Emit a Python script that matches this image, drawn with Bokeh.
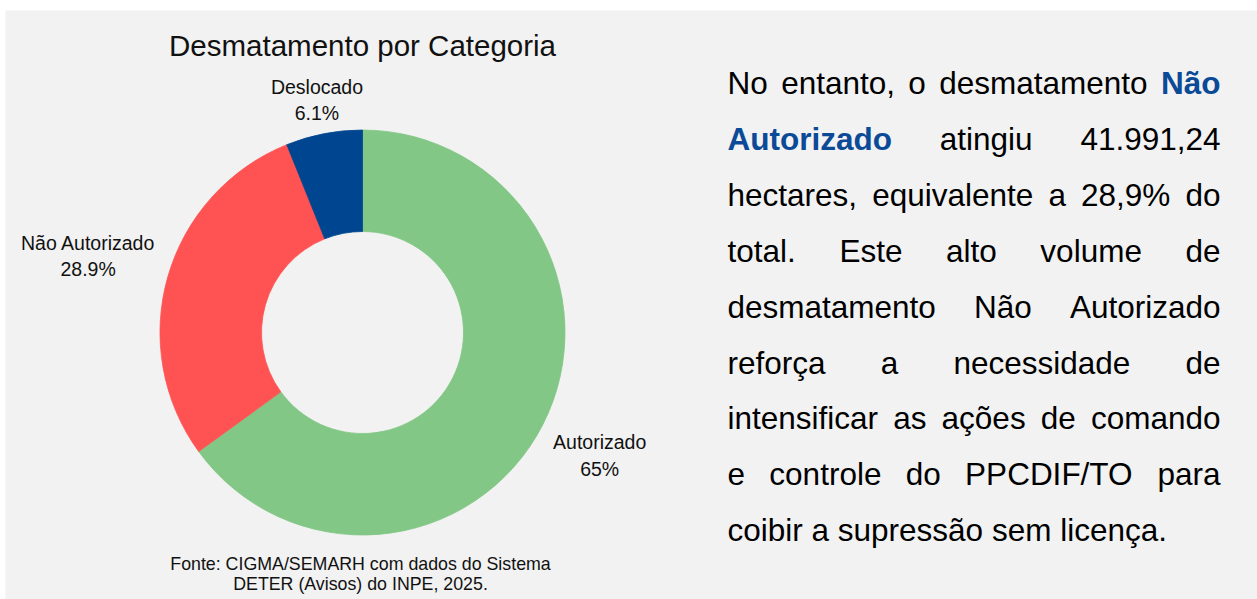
import math
from bokeh.plotting import figure
from bokeh.models import Range1d, ColumnDataSource
from bokeh.core.properties import value
from bokeh.embed import file_html
from bokeh.resources import INLINE

# ---------------- data ----------------
categories = ["Autorizado", "Não Autorizado", "Deslocado"]
percentages = [65.0, 28.9, 6.1]
pct_labels = ["65%", "28.9%", "6.1%"]
colors = ["#82C785", "#FF5353", "#00458F"]

title_text = "Desmatamento por Categoria"
source_lines = ["Fonte: CIGMA/SEMARH com dados do Sistema",
                "DETER (Avisos) do INPE, 2025."]

# paragraph (justified); 1 = bold blue
paragraph_lines = [
    [("No", 0), ("entanto,", 0), ("o", 0), ("desmatamento", 0), ("Não", 1)],
    [("Autorizado", 1), ("atingiu", 0), ("41.991,24", 0)],
    [("hectares,", 0), ("equivalente", 0), ("a", 0), ("28,9%", 0), ("do", 0)],
    [("total.", 0), ("Este", 0), ("alto", 0), ("volume", 0), ("de", 0)],
    [("desmatamento", 0), ("Não", 0), ("Autorizado", 0)],
    [("reforça", 0), ("a", 0), ("necessidade", 0), ("de", 0)],
    [("intensificar", 0), ("as", 0), ("ações", 0), ("de", 0), ("comando", 0)],
    [("e", 0), ("controle", 0), ("do", 0), ("PPCDIF/TO", 0), ("para", 0)],
]
paragraph_last = "coibir a supressão sem licença."

# ---------------- font metrics (Arial / Liberation Sans, per 1000 em) ----------------
REG = dict(zip("abcdefghijklmnopqrstuvwxyz",
               [556, 556, 500, 556, 556, 278, 556, 556, 222, 222, 500, 222, 833,
                556, 556, 556, 556, 333, 500, 278, 556, 500, 722, 500, 500, 500]))
REG.update(dict(zip("ABCDEFGHIJKLMNOPQRSTUVWXYZ",
                    [667, 667, 722, 722, 667, 611, 778, 722, 278, 500, 667, 556, 833,
                     722, 778, 667, 778, 722, 667, 611, 722, 667, 944, 667, 667, 611])))
REG.update({c: 556 for c in "0123456789"})
REG.update({" ": 278, ",": 278, ".": 278, "%": 889, "/": 278, "(": 333, ")": 333,
            ":": 278, "ã": 556, "õ": 556, "ç": 500, "á": 556, "é": 556})
BOLD = dict(zip("abcdefghijklmnopqrstuvwxyz",
                [556, 611, 556, 611, 556, 333, 611, 611, 278, 278, 556, 278, 889,
                 611, 611, 611, 611, 389, 556, 333, 611, 556, 778, 556, 556, 500]))
BOLD.update({"A": 722, "N": 722, "ã": 556, " ": 278})


def text_width(s, size, bold=False):
    table = BOLD if bold else REG
    return sum(table.get(ch, 556) for ch in s) * size / 1000.0


# ---------------- page geometry ----------------
W, H = 1257, 599


def X(px):
    return px


def Y(py):
    return H - py


FONT = value("Liberation Sans")

p = figure(width=W, height=H, output_backend="svg", toolbar_location=None,
           x_range=Range1d(0, W), y_range=Range1d(0, H), min_border=0)
p.axis.visible = False
p.grid.visible = False
p.outline_line_color = None
p.background_fill_color = "#FFFFFF"
p.border_fill_color = "#FFFFFF"

# gray panel behind the chart and the text
p.quad(left=[X(5)], right=[X(1257)], top=[Y(10)], bottom=[Y(599)],
       fill_color="#F2F2F2", line_color=None)

# ---------------- donut ----------------
CX, CY = 362, 332
R_OUT, R_IN = 202.5, 101
total = sum(percentages)
starts, ends, mids = [], [], []
c = 0.0
for v in percentages:
    f0 = c / total
    c += v
    f1 = c / total
    starts.append(math.pi / 2 - 2 * math.pi * f1)
    ends.append(math.pi / 2 - 2 * math.pi * f0)
    mids.append((f0 + f1) / 2)

src = ColumnDataSource(dict(x=[X(CX)] * 3, y=[Y(CY)] * 3, start=starts, end=ends,
                            color=colors, cat=categories))
p.annular_wedge(x="x", y="y", inner_radius=R_IN, outer_radius=R_OUT,
                start_angle="start", end_angle="end", direction="anticlock",
                fill_color="color", line_color="color", line_width=0.8, source=src)

# ---------------- slice labels (outside, on mid-angle ray) ----------------
LBL_SIZE = 19.5
LBL_H = 46
GAP = 13
lx, ly, lt = [], [], []
for cat, pl, m in zip(categories, pct_labels, mids):
    th = 2 * math.pi * m
    dx, dy = math.sin(th), -math.cos(th)  # page coords (y down)
    w = max(text_width(cat, LBL_SIZE), text_width(pl, LBL_SIZE))
    ext = min((w / 2) / max(abs(dx), 1e-6), (LBL_H / 2) / max(abs(dy), 1e-6))
    d = R_OUT + GAP + ext
    lx.append(X(CX + dx * d))
    ly.append(Y(CY + dy * d + 2))
    lt.append(cat + "\n" + pl)
p.text(x=lx, y=ly, text=lt, text_align="center", text_baseline="middle",
       text_font=FONT, text_font_size=value(f"{LBL_SIZE}px"), text_line_height=1.2,
       text_color="#111111")

# ---------------- title ----------------
p.text(x=[X(362)], y=[Y(45)], text=[title_text], text_align="center",
       text_baseline="middle", text_font=FONT, text_font_size=value("29.5px"),
       text_color="#111111")

# ---------------- source note ----------------
p.text(x=[X(360), X(360)], y=[Y(563), Y(583)], text=source_lines, text_align="center",
       text_baseline="middle", text_font=FONT, text_font_size=value("17.8px"),
       text_color="#111111")

# ---------------- justified paragraph ----------------
BODY = 31.5
LEFT, RIGHT = 727, 1220
MID0, STEP = 82.5, 55.9
BLUE = "#0B4A97"
wx, wy, wt, wc, wb = [], [], [], [], []
for i, line in enumerate(paragraph_lines):
    widths = [text_width(wd, BODY, bool(b)) for wd, b in line]
    gap = (RIGHT - LEFT - sum(widths)) / (len(line) - 1)
    x = LEFT
    for (wd, b), ww in zip(line, widths):
        wx.append(X(x))
        wy.append(Y(MID0 + STEP * i))
        wt.append(wd)
        wc.append(BLUE if b else "#000000")
        wb.append("bold" if b else "normal")
        x += ww + gap
wsrc = ColumnDataSource(dict(x=wx, y=wy, t=wt, c=wc, b=wb))
p.text(x="x", y="y", text="t", text_color="c", text_font_style="b", source=wsrc,
       text_align="left", text_baseline="middle", text_font=FONT,
       text_font_size=value(f"{BODY}px"))
p.text(x=[X(LEFT)], y=[Y(MID0 + STEP * len(paragraph_lines))], text=[paragraph_last],
       text_align="left", text_baseline="middle", text_font=FONT,
       text_font_size=value(f"{BODY}px"), text_color="#000000")

open("out.html", "w").write(file_html(p, INLINE))
